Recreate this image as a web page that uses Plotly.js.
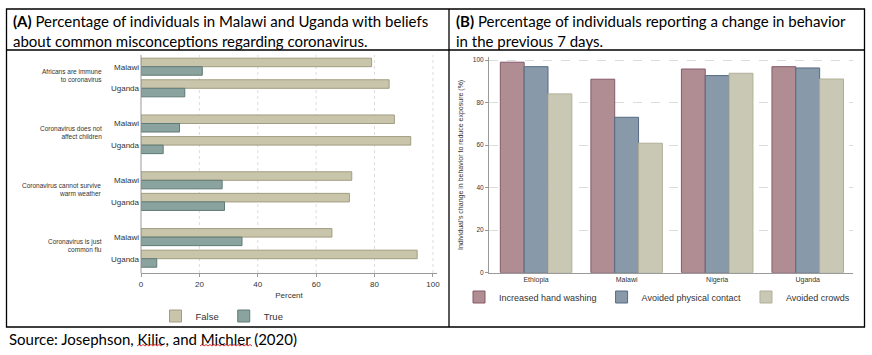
<!DOCTYPE html>
<html>
<head>
<meta charset="utf-8">
<script src="https://cdn.plot.ly/plotly-3.0.1.min.js"></script>
<style>
  html, body { margin: 0; padding: 0; background: #ffffff; }
  #chart { width: 872px; height: 355px; }
</style>
</head>
<body>
<div id="chart"></div>
<script>
// ---------- Data ----------
// Panel A: misconceptions (percent), per statement: [Malawi, Uganda]
const statements = [
  "Africans are immune<br>to coronavirus",
  "Coronavirus does not<br>affect children",
  "Coronavirus cannot survive<br>warm weather",
  "Coronavirus is just<br>common flu"
];
const countriesA = ["Malawi", "Uganda"];
const pctFalse = [[79.0, 85.0], [86.8, 92.4], [72.2, 71.4], [65.4, 94.6]];
const pctTrue  = [[21.0, 15.0], [13.2, 7.6], [27.8, 28.6], [34.6, 5.4]];
const percentTicks = [0, 20, 40, 60, 80, 100];

// Panel B: change in behaviour (percent)
const countriesB = ["Ethiopia", "Malawi", "Nigeria", "Uganda"];
const handWashing     = [99.0, 91.0, 95.8, 96.9];
const physicalContact = [96.9, 73.1, 92.7, 96.3];
const avoidedCrowds   = [84.1, 60.9, 93.8, 91.1];
const behaviourTicks  = [0, 20, 40, 60, 80, 100];

// ---------- Layout helpers (pixel -> paper) ----------
const W = 872, H = 355;
const px = x => x / W;
const py = y => 1 - y / H;

const TXT = "#333333";
const ARIAL = "Liberation Sans, Arial, sans-serif";
const DOC = "Lato, Carlito, Calibri, sans-serif";

const colFalse = { fill: "#c9c5aa", line: "#a19d82" };
const colTrue  = { fill: "#8ba39f", line: "#5f7b76" };
const colHand  = { fill: "#b08d92", line: "#85596a" };
const colCont  = { fill: "#8899aa", line: "#566b82" };
const colCrowd = { fill: "#c9c8b4", line: "#b1af9a" };

// Panel A geometry
const A_left = 141, A_right = 437, A_top = 55, A_bottom = 273;
const blockTop0 = 55.9, blockPitch = 56.8, blockH = 43.2;

const traces = [];
const layout = {
  width: W, height: H,
  margin: { l: 0, r: 0, t: 0, b: 0 },
  paper_bgcolor: "#ffffff",
  plot_bgcolor: "rgba(0,0,0,0)",
  barmode: "group",
  bargap: 0.21,
  bargroupgap: 0,
  showlegend: true,
  font: { family: ARIAL, color: TXT },
  annotations: [],
  shapes: [],
  xaxis: {
    domain: [px(A_left), px(A_right)],
    range: [0, 101.4],
    anchor: "free",
    position: py(A_bottom),
    tickvals: percentTicks,
    ticks: "outside", ticklen: 3, tickcolor: "#9a9a9a",
    showgrid: false, zeroline: false, showline: true, linecolor: "#9a9a9a", linewidth: 1,
    tickfont: { size: 8, color: TXT, family: ARIAL },
    title: { text: "Percent", font: { size: 8, color: TXT, family: ARIAL }, standoff: 4 },
    fixedrange: true
  },
  legend: {
    orientation: "h", x: px(222), y: py(316), xanchor: "center", yanchor: "middle",
    font: { size: 9.5, color: TXT, family: ARIAL }, bgcolor: "rgba(0,0,0,0)",
    itemwidth: 30, traceorder: "normal"
  },
  legend2: {
    orientation: "h", x: px(657), y: py(297), xanchor: "center", yanchor: "middle",
    font: { size: 9, color: TXT, family: ARIAL }, bgcolor: "rgba(0,0,0,0)",
    itemwidth: 30, traceorder: "normal"
  }
};

statements.forEach((s, i) => {
  const yName = i === 0 ? "y" : "y" + (i + 1);
  const axKey = i === 0 ? "yaxis" : "yaxis" + (i + 1);
  const top = blockTop0 + blockPitch * i, bottom = top + blockH;
  layout[axKey] = {
    domain: [py(bottom), py(top)],
    anchor: "x",
    type: "category",
    categoryorder: "array", categoryarray: countriesA,
    autorange: "reversed",
    showgrid: false, zeroline: false, showline: false, ticks: "",
    tickfont: { size: 8, color: TXT, family: ARIAL },
    ticklabelstandoff: 1,
    fixedrange: true
  };
  traces.push({
    type: "bar", orientation: "h", name: "False",
    x: pctFalse[i], y: countriesA, xaxis: "x", yaxis: yName,
    marker: { color: colFalse.fill, line: { color: colFalse.line, width: 1 } },
    legend: "legend", legendgroup: "F", showlegend: i === 0, hoverinfo: "x+y"
  });
  traces.push({
    type: "bar", orientation: "h", name: "True",
    x: pctTrue[i], y: countriesA, xaxis: "x", yaxis: yName,
    marker: { color: colTrue.fill, line: { color: colTrue.line, width: 1 } },
    legend: "legend", legendgroup: "T", showlegend: i === 0, hoverinfo: "x+y"
  });
  layout.annotations.push({
    xref: "paper", yref: "paper", x: px(104), y: py(top + blockH / 2 - 2),
    xanchor: "right", yanchor: "middle", align: "right",
    text: s, showarrow: false,
    font: { size: 6.5, color: TXT, family: ARIAL }
  });
});

// vertical dashed gridlines (panel A) spanning the whole plot region
percentTicks.filter(v => v > 0).forEach(v => {
  layout.shapes.push({
    type: "line", xref: "x", yref: "paper", x0: v, x1: v, y0: py(A_bottom), y1: py(A_top),
    line: { color: "#dddddd", width: 1, dash: "dot" }, layer: "below"
  });
});
// panel A left axis line
layout.shapes.push({
  type: "line", xref: "paper", yref: "paper", x0: px(A_left), x1: px(A_left),
  y0: py(A_bottom), y1: py(A_top), line: { color: "#9a9a9a", width: 1 }
});

// ---------- Panel B ----------
const B_left = 489, B_right = 853, B_top = 57.1, B_bottom = 272.7;
layout.xaxis2 = {
  domain: [px(B_left), px(B_right)],
  anchor: "y5", type: "category",
  categoryorder: "array", categoryarray: countriesB,
  range: [-0.52, 3.5],
  showgrid: false, zeroline: false, showline: true, linecolor: "#9a9a9a", linewidth: 1,
  ticks: "", tickfont: { size: 7, color: TXT, family: ARIAL }, ticklabelstandoff: 0,
  fixedrange: true
};
layout.yaxis5 = {
  domain: [py(B_bottom), py(B_top)],
  anchor: "x2", range: [0, 101.4],
  tickvals: behaviourTicks,
  ticks: "outside", ticklen: 3, tickcolor: "#9a9a9a",
  showgrid: true, gridcolor: "#dcdcdc", griddash: "dash", gridwidth: 1,
  zeroline: false, showline: true, linecolor: "#9a9a9a", linewidth: 1,
  tickfont: { size: 6.5, color: TXT, family: ARIAL },
  title: { text: "Individual's change in behavior to reduce exposure (%)",
           font: { size: 7, color: TXT, family: ARIAL }, standoff: 8 },
  fixedrange: true
};

[
  ["Increased hand washing", handWashing, colHand],
  ["Avoided physical contact", physicalContact, colCont],
  ["Avoided crowds", avoidedCrowds, colCrowd]
].forEach(([name, vals, c]) => {
  traces.push({
    type: "bar", name: name, x: countriesB, y: vals, xaxis: "x2", yaxis: "y5",
    marker: { color: c.fill, line: { color: c.line, width: 1 } },
    legend: "legend2", hoverinfo: "x+y"
  });
});

// ---------- Table frame & captions ----------
const frame = { color: "#000000", width: 1.3 };
layout.shapes.push(
  { type: "rect", xref: "paper", yref: "paper", x0: px(6.5), x1: px(864.5), y0: py(327), y1: py(9), line: frame },
  { type: "line", xref: "paper", yref: "paper", x0: px(6.5), x1: px(864.5), y0: py(50), y1: py(50), line: frame },
  { type: "line", xref: "paper", yref: "paper", x0: px(449), x1: px(449), y0: py(327), y1: py(9), line: frame }
);

layout.annotations.push(
  {
    xref: "paper", yref: "paper", x: px(11), y: py(31), xanchor: "left", yanchor: "middle", align: "left",
    showarrow: false,
    text: "<b>(A)</b> Percentage of individuals in Malawi and Uganda with beliefs<br>about common misconceptions regarding coronavirus.",
    font: { size: 15, color: "#000000", family: DOC }
  },
  {
    xref: "paper", yref: "paper", x: px(454), y: py(31), xanchor: "left", yanchor: "middle", align: "left",
    showarrow: false,
    text: "<b>(B)</b> Percentage of individuals reporting a change in behavior<br>in the previous 7 days.",
    font: { size: 15, color: "#000000", family: DOC }
  },
  {
    xref: "paper", yref: "paper", x: px(7), y: py(339), xanchor: "left", yanchor: "middle", align: "left",
    showarrow: false,
    text: "Source: Josephson, Kilic, and Michler (2020)",
    font: { size: 15, color: "#000000", family: DOC }
  }
);

// spell-check squiggles under names
function squiggle(x0, x1, y) {
  let d = "M" + px(x0) + "," + py(y);
  let up = true;
  for (let x = x0 + 2; x <= x1; x += 2) {
    d += " L" + px(x) + "," + py(y + (up ? -1.5 : 0));
    up = !up;
  }
  return { type: "path", xref: "paper", yref: "paper", path: d, line: { color: "#e03030", width: 1 } };
}
layout.shapes.push(squiggle(137, 163, 346), squiggle(200, 252, 346));

Plotly.newPlot("chart", traces, layout, { displayModeBar: false, staticPlot: true });
</script>
</body>
</html>
